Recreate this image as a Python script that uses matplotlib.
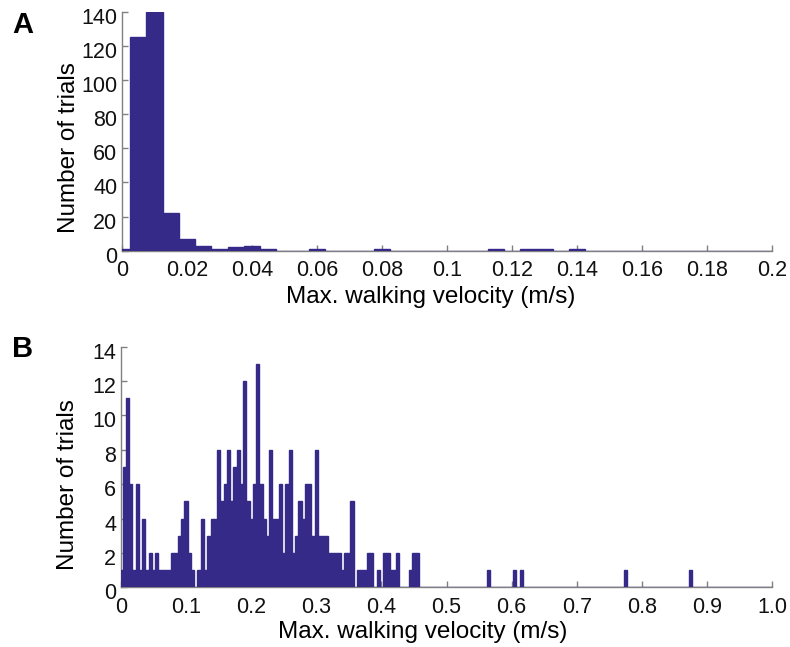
import numpy as np
import matplotlib
matplotlib.use("Agg")
import matplotlib.pyplot as plt
from matplotlib.transforms import ScaledTranslation

plt.rcParams['font.family'] = ['Liberation Sans', 'DejaVu Sans']

# ---------------- data ----------------
bin_width = 0.005

# Panel A: histogram counts, bins centred at 0, 0.005, ..., 0.2
a_counts = [1, 125, 140, 22, 7, 3, 1, 2, 3, 1,
            0, 0, 1, 0, 0, 0, 1, 0, 0, 0,
            0, 0, 0, 1, 0, 1, 1, 0, 1, 0,
            0, 0, 0, 0, 0, 0, 0, 0, 0, 0,
            0]
a_xticks = [0, 0.02, 0.04, 0.06, 0.08, 0.1, 0.12, 0.14, 0.16, 0.18, 0.2]
a_xticklabels = ['0', '0.02', '0.04', '0.06', '0.08', '0.1', '0.12', '0.14', '0.16', '0.18', '0.2']
a_yticks = [0, 20, 40, 60, 80, 100, 120, 140]

# Panel B: counts for bins centred at 0, 0.005, ..., 0.455
b_counts_main = [1, 7, 11, 6, 1, 6, 1, 4, 1, 2,
                 1, 2, 1, 1, 1, 1, 2, 2, 3, 4,
                 5, 2, 1, 0, 1, 4, 1, 3, 4, 4,
                 8, 5, 6, 8, 5, 7, 8, 6, 12, 5,
                 4, 6, 13, 6, 4, 3, 8, 4, 4, 6,
                 2, 6, 8, 2, 3, 5, 4, 6, 6, 3,
                 8, 3, 3, 3, 2, 2, 2, 2, 1, 2,
                 2, 5, 0, 1, 1, 1, 2, 2, 0, 1,
                 0, 2, 2, 1, 1, 2, 0, 0, 0, 1,
                 2, 2]
# isolated fast trials
b_outlier_centers = [0.565, 0.605, 0.615, 0.775, 0.875]
b_outlier_counts = [1, 1, 1, 1, 1]
b_xticks = [0, 0.1, 0.2, 0.3, 0.4, 0.5, 0.6, 0.7, 0.8, 0.9, 1.0]
b_xticklabels = ['0', '0.1', '0.2', '0.3', '0.4', '0.5', '0.6', '0.7', '0.8', '0.9', '1.0']
b_yticks = [0, 2, 4, 6, 8, 10, 12, 14]

xlabel = 'Max. walking velocity (m/s)'
ylabel = 'Number of trials'

# ---------------- build bins ----------------
a_centers = np.arange(len(a_counts)) * bin_width
b_n = 201
b_centers = np.arange(b_n) * bin_width
b_counts = np.zeros(b_n)
b_counts[:len(b_counts_main)] = b_counts_main
for c, n in zip(b_outlier_centers, b_outlier_counts):
    b_counts[int(round(c / bin_width))] = n

# ---------------- style ----------------
bar_color = '#352a87'
spine_color = '#808080'
tick_fs = 15.5
label_fs = 17.5

fig = plt.figure(figsize=(7.9, 6.47), dpi=100)
W, H = 790, 647


def make_axes(l, r, t, b):
    return fig.add_axes([l / W, 1 - b / H, (r - l) / W, (b - t) / H])


def style(ax, xticks, xticklabels, yticks, xlab_x, xlab_y, ylab_y):
    for s in ['top', 'right']:
        ax.spines[s].set_visible(False)
    for s in ['left', 'bottom']:
        ax.spines[s].set_color(spine_color)
        ax.spines[s].set_linewidth(1.0)
        ax.spines[s].set_zorder(1)
    ax.set_xticks(xticks)
    ax.set_xticklabels(xticklabels)
    ax.set_yticks(yticks)
    ax.tick_params(direction='in', length=4.5, width=1.0, color=spine_color,
                   labelsize=tick_fs, labelcolor='#111111')
    ax.tick_params(axis='x', pad=7)
    ax.tick_params(axis='y', pad=3.5)
    off = ScaledTranslation(0, -4 / 100, fig.dpi_scale_trans)
    for lab in ax.get_yticklabels():
        lab.set_transform(lab.get_transform() + off)
    ax.set_xlabel(xlabel, fontsize=label_fs, va='center')
    ax.xaxis.set_label_coords(xlab_x, xlab_y)
    ax.set_ylabel(ylabel, fontsize=label_fs, va='center')
    ax.yaxis.set_label_coords(-0.081, ylab_y)


# Panel A
axA = make_axes(122, 772, 11.7, 250.7)
axA.bar(a_centers, a_counts, width=bin_width, color=bar_color,
        edgecolor=bar_color, linewidth=1.0, zorder=3, clip_on=True)
axA.set_xlim(0, 0.2)
axA.set_ylim(0, 140)
style(axA, a_xticks, a_xticklabels, a_yticks, 0.475, -0.194, 0.43)

# Panel B
axB = make_axes(121, 772, 346.7, 587.3)
axB.bar(b_centers, b_counts, width=bin_width, color=bar_color,
        edgecolor=bar_color, linewidth=1.0, zorder=3, clip_on=True)
axB.set_xlim(0, 1.0)
axB.set_ylim(0, 14)
style(axB, b_xticks, b_xticklabels, b_yticks, 0.464, -0.186, 0.425)

fig.text(12 / W, 1 - 11 / H, 'A', fontsize=21, fontweight='bold', va='top', ha='left')
fig.text(12 / W, 1 - 335 / H, 'B', fontsize=21, fontweight='bold', va='top', ha='left')

fig.savefig('out.png', dpi=100)
